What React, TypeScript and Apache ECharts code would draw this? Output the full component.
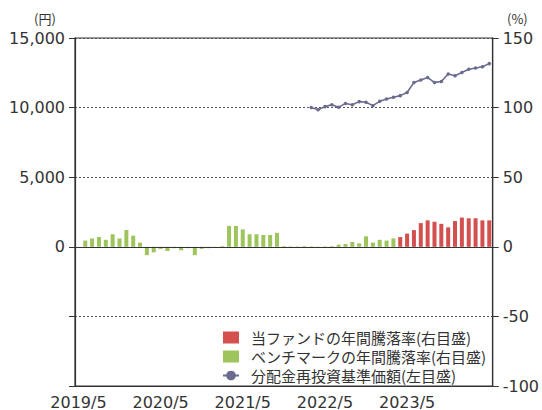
import React, { useEffect, useRef } from "react";
import * as echarts from "echarts";

// Monthly categories 2019/5 .. 2024/5
const START_YEAR = 2019;
const START_MONTH = 5;
const MONTH_COUNT = 61;
const categories: string[] = [];
for (let i = 0; i < MONTH_COUNT; i++) {
  const m = START_MONTH - 1 + i;
  categories.push(`${START_YEAR + Math.floor(m / 12)}/${(m % 12) + 1}`);
}
const shownLabels = ["2019/5", "2020/5", "2021/5", "2022/5", "2023/5"];

// Benchmark annual return (%), from 2019/5 (index 0) to 2023/3 (index 46)
const benchmarkValues: (number | null)[] = [
  null, 4.5, 6, 7, 5, 9, 6, 12, 8, 3,
  -6, -4, -1.5, -3, -1, -2.5, -1, -6, -1.5, -1,
  -0.5, 0.5, 15, 15, 12.5, 9, 9, 8.5, 8.5, 10,
  0.5, 0.3, 0.3, 0.5, 0.3, -0.5, 0.3, 0.5, 1.5, 2,
  3.5, 2.5, 7.5, 3, 5, 4.5, 6,
];
// Fund annual return (%), from 2023/4 (index 47) to 2024/5 (index 60)
const FUND_START = 47;
const fundValues: number[] = [7, 9.5, 12, 17, 19, 18, 16.5, 14, 18.5, 21, 20.5, 20.5, 19, 19];
// NAV with dividends reinvested (yen), from 2022/3 (index 34) to 2024/5 (index 60)
const NAV_START = 34;
const navValues: number[] = [
  10000, 9840, 10070, 10210, 10020, 10300, 10210, 10430, 10380, 10140,
  10450, 10620, 10740, 10860, 11090, 11810, 11980, 12160, 11810, 11880,
  12410, 12290, 12520, 12760, 12840, 12930, 13160,
];

const leftTicks = { min: -10000, max: 15000, interval: 5000 };
const rightTicks = { min: -100, max: 150, interval: 50 };

const pad = (arr: (number | null)[], start: number) => {
  const out: (number | null)[] = new Array(MONTH_COUNT).fill(null);
  arr.forEach((v, i) => (out[start + i] = v));
  return out;
};

export default function App() {
  const ref = useRef<HTMLDivElement>(null);
  useEffect(() => {
    if (!ref.current) return;
    const chart = echarts.init(ref.current, null, { renderer: "svg" });
    const axisFont = { fontFamily: "DejaVu Sans", fontSize: 16, color: "#333" };
    chart.setOption({
      animation: false,
      backgroundColor: "#fff",
      grid: {
        left: 75, right: 49, top: 38, bottom: 22, containLabel: false,
        show: true, borderColor: "#333", borderWidth: 1.2, backgroundColor: "transparent",
      },
      legend: {
        orient: "vertical",
        left: 217,
        top: 325,
        itemWidth: 16,
        itemHeight: 12,
        itemGap: 4,
        textStyle: {
          fontFamily: "Noto Sans CJK JP",
          fontSize: 15,
          color: "#333",
          padding: [0, 0, 0, 7],
        },
        data: [
          { name: "当ファンドの年間騰落率(右目盛)", icon: "rect" },
          { name: "ベンチマークの年間騰落率(右目盛)", icon: "rect" },
          { name: "分配金再投資基準価額(左目盛)" },
        ],
      },
      graphic: [
        { type: "text", left: 34, top: 12, style: { text: "(円)", fontSize: 13, fontFamily: "Noto Sans CJK JP", fill: "#333" } },
        { type: "text", left: 507, top: 12, style: { text: "(%)", fontSize: 13, fontFamily: "Noto Sans CJK JP", fill: "#333" } },
      ],
      xAxis: {
        type: "category",
        data: categories,
        boundaryGap: true,
        axisLine: { onZero: false, lineStyle: { color: "#333", width: 1.2 } },
        axisTick: { show: false },
        axisLabel: {
          ...axisFont,
          margin: 8,
          interval: (_i: number, v: string) => shownLabels.includes(v),
        },
        splitLine: { show: false },
      },
      yAxis: [
        {
          type: "value",
          position: "left",
          ...leftTicks,
          axisLine: { show: true, lineStyle: { color: "#333", width: 1.2 } },
          axisTick: { show: true, length: 6, lineStyle: { color: "#333" } },
          axisLabel: {
            ...axisFont,
            margin: 10,
            formatter: (v: number) => (v >= 0 ? v.toLocaleString("en-US") : ""),
          },
          splitLine: { show: false },
        },
        {
          type: "value",
          position: "right",
          ...rightTicks,
          axisLine: { show: true, lineStyle: { color: "#333", width: 1.2 } },
          axisTick: { show: true, length: 6, lineStyle: { color: "#333" } },
          axisLabel: { ...axisFont, margin: 10 },
          splitLine: { show: true, lineStyle: { color: "#555", type: [2, 2], width: 1 } },
        },
      ],
      series: [
        {
          name: "当ファンドの年間騰落率(右目盛)",
          type: "bar",
          yAxisIndex: 1,
          data: pad(fundValues, FUND_START),
          barWidth: 4,
          barGap: "-100%",
          itemStyle: { color: "#d4504f" },
          markLine: {
            silent: true,
            symbol: "none",
            label: { show: false },
            lineStyle: { color: "#333", type: "solid", width: 1.2 },
            data: [{ yAxis: 0 }],
          },
        },
        {
          name: "ベンチマークの年間騰落率(右目盛)",
          type: "bar",
          yAxisIndex: 1,
          data: pad(benchmarkValues, 0),
          barWidth: 4,
          barGap: "-100%",
          itemStyle: { color: "#9ec45c" },
        },
        {
          name: "分配金再投資基準価額(左目盛)",
          type: "line",
          yAxisIndex: 0,
          data: pad(navValues, NAV_START),
          symbol: "circle",
          symbolSize: 3.5,
          showSymbol: true,
          lineStyle: { color: "#6b6b90", width: 1.6 },
          itemStyle: { color: "#6b6b90" },
        },
      ],
    });
    return () => chart.dispose();
  }, []);
  return <div ref={ref} style={{ width: 542, height: 410, position: "absolute", left: 0, top: 0 }} />;
}
